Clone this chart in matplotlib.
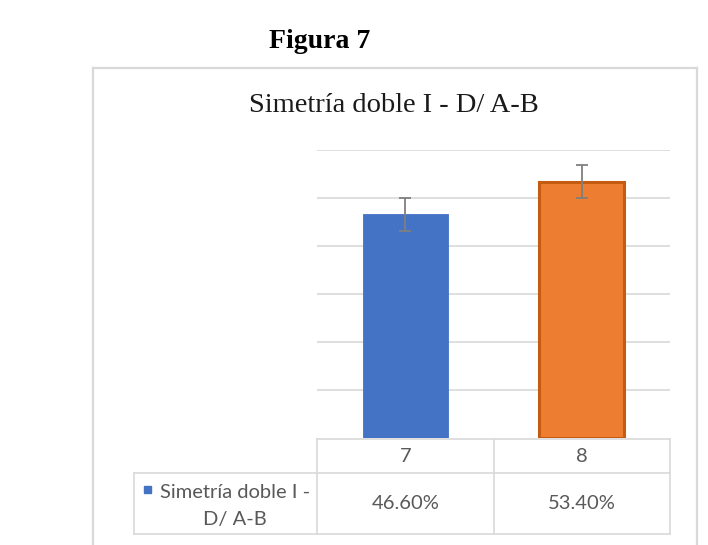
import matplotlib.pyplot as plt
from matplotlib.lines import Line2D

categories = ['7', '8']
values = [46.6, 53.4]
errors = [3.4, 3.4]
series_name = 'Simetría doble I - D/ A-B'
colors = ['#4472C4', '#ED7D31']
edges = ['#4472C4', '#C55A11']

W, H = 708, 545
fig = plt.figure(figsize=(W / 100, H / 100), dpi=100)

# overlay in pixel coordinates for frame, titles and data table
ov = fig.add_axes([0, 0, 1, 1])
ov.set_xlim(0, W)
ov.set_ylim(H, 0)
ov.axis('off')

grey = '#d9d9d9'
def hline(x0, x1, y, c=grey, lw=1.2):
    ov.add_line(Line2D([x0, x1], [y, y], color=c, lw=lw))
def vline(x, y0, y1, c=grey, lw=1.2):
    ov.add_line(Line2D([x, x], [y0, y1], color=c, lw=lw))

# chart frame
hline(93, 697, 68, lw=1.6)
vline(93, 68, H, lw=1.6)
vline(697, 68, H, lw=1.6)

ov.text(320, 42, 'Figura 7', ha='center', va='center', fontsize=20,
        fontweight='bold', family='Liberation Serif', color='black')
ov.text(394, 105, series_name, ha='center', va='center', fontsize=20.5,
        family='Liberation Serif', color='#1a1a1a')

# bar plot area
x0, x1, ytop, ybot = 317, 670, 150, 438
ax = fig.add_axes([x0 / W, 1 - ybot / H, (x1 - x0) / W, (ybot - ytop) / H])
ax.patch.set_alpha(0)
pos = list(range(len(categories)))
ax.bar(pos, values, width=0.48, color=colors, edgecolor=edges,
       linewidth=[0.6, 2.2], zorder=3)
ax.errorbar(pos, values, yerr=errors, fmt='none', ecolor='#7f7f7f',
            elinewidth=1.3, capsize=4.5, capthick=1.3, zorder=4)
ax.set_xlim(-0.5, len(categories) - 0.5)
ax.set_ylim(0, 60)
ax.set_yticks(range(10, 61, 10))
ax.yaxis.grid(True, color=grey, lw=1.2, zorder=0)
ax.tick_params(left=False, bottom=False, labelleft=False, labelbottom=False)
for s in ax.spines.values():
    s.set_visible(False)

# data table
cols = [317, 494, 670]
r0, r1, r2 = 439, 473, 534
tl = 134
hline(cols[0], cols[-1], r0)
hline(tl, cols[-1], r1)
hline(tl, cols[-1], r2)
vline(tl, r1, r2)
for c in cols:
    vline(c, r0, r2)

tfont = dict(family='Lato', fontsize=14.5, color='#595959')
for i, (cat, v) in enumerate(zip(categories, values)):
    cx = (cols[i] + cols[i + 1]) / 2
    ov.text(cx, (r0 + r1) / 2, cat, ha='center', va='center', **tfont)
    ov.text(cx, (r1 + r2) / 2, f'{v:.2f}%', ha='center', va='center', **tfont)

ov.add_patch(plt.Rectangle((144, 486), 7, 7, color=colors[0]))
ov.text(235, 492, 'Simetría doble I -', ha='center', va='center', **tfont)
ov.text(235, 519, 'D/ A-B', ha='center', va='center', **tfont)

fig.savefig('out.png', dpi=100)
